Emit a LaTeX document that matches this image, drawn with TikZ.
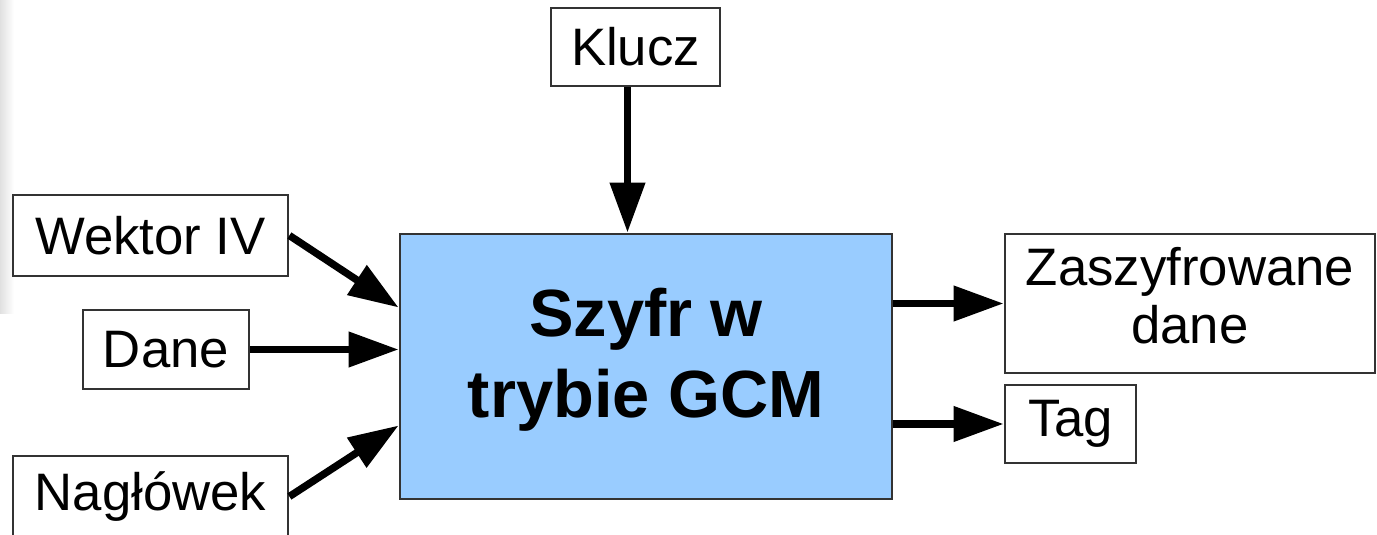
\documentclass[tikz,border=0pt]{standalone}
\usepackage{fontspec}
\setmainfont{Liberation Sans}
\usetikzlibrary{arrows.meta,calc}

\definecolor{gcmblue}{HTML}{99CCFF}

\tikzset{
	blok/.style={draw=black!80, line width=0.8pt, fill=white, inner sep=0pt, align=center,
		font=\fontsize{15}{14}\selectfont},
	strzalka/.style={line width=2.1pt, -{Triangle[length=0.5cm,width=0.34cm]}, shorten >=0pt}
}

\begin{document}
\begin{tikzpicture}
			\useasboundingbox (0,0) rectangle (13.77,5.34);
			\clip (0,0) rectangle (13.77,5.34);
			\shade [left color=black!12, right color=white] (0,2.2) rectangle (0.14,5.34);
			\node [blok, fill=gcmblue, minimum width=4.92cm, minimum height=2.65cm, text depth=0.28cm,
				font=\fontsize{19}{23}\selectfont\bfseries] (szyfr) at (6.46,1.675) {Szyfr w\\trybie GCM};
			\node [blok, minimum width=1.69cm, minimum height=0.78cm] (klucz) at (6.355,4.87) {Klucz};
			\node [blok, minimum width=2.75cm, minimum height=0.81cm] (wektor) at (1.505,2.985) {Wektor IV};
			\node [blok, minimum width=1.66cm, minimum height=0.79cm] (dane) at (1.66,1.845) {Dane};
			\node [blok, minimum width=2.75cm, minimum height=0.81cm] (naglowek) at (1.505,0.375) {Nagłówek};
			\node [blok, minimum width=3.70cm, minimum height=1.39cm, text depth=0.16cm,
				font=\fontsize{15}{16.5}\selectfont] (zaszyfr) at (11.90,2.305) {Zaszyfrowane\\dane};
			\node [blok, minimum width=1.31cm, minimum height=0.78cm] (tag) at (10.705,1.10) {Tag};
			\draw [strzalka] ([xshift=-0.8mm]klucz.south) -- ([xshift=-0.8mm]klucz.south |- szyfr.north);
			\draw [strzalka] (wektor.east) -- ([yshift=5.9mm]szyfr.west);
			\draw [strzalka] (dane.east) -- (szyfr.west |- dane.east);
			\draw [strzalka] (naglowek.east) -- ([yshift=-5.9mm]szyfr.west);
			\draw [strzalka] (szyfr.east |- zaszyfr.west) -- (zaszyfr.west);
			\draw [strzalka] (szyfr.east |- tag.west) -- (tag.west);
		\end{tikzpicture}
\end{document}
